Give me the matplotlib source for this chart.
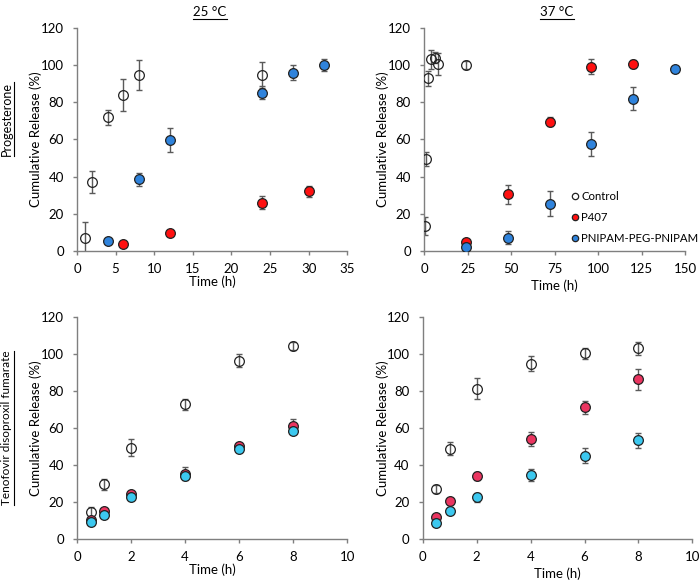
import matplotlib.pyplot as plt

plt.rcParams['font.family'] = ['Lato', 'DejaVu Sans']

# --- Progesterone, 25 °C ---
p25_ctrl_t = [1, 2, 4, 6, 8, 24]
p25_ctrl_y = [7, 37, 72, 84, 94.5, 94.5]
p25_ctrl_e = [8.5, 6, 4, 8.5, 8, 7]
p25_p407_t = [6, 12, 24, 30]
p25_p407_y = [4, 9.5, 26, 32]
p25_p407_e = [0.5, 1, 3.5, 3]
p25_pni_t = [4, 8, 12, 24, 28, 32]
p25_pni_y = [5.5, 38.5, 59.5, 85, 96, 100]
p25_pni_e = [0.5, 3.5, 6.5, 3.5, 4, 3]

# --- Progesterone, 37 °C ---
p37_ctrl_t = [0.5, 1, 2, 4, 6, 8, 24]
p37_ctrl_y = [13.5, 49.5, 93, 103, 104, 100.5, 100]
p37_ctrl_e = [5, 4, 4, 5, 3, 6, 2]
p37_p407_t = [24, 48, 72, 96, 120]
p37_p407_y = [5, 30.5, 69.5, 99, 100.5]
p37_p407_e = [1, 5, 2.5, 4, 2]
p37_pni_t = [24, 48, 72, 96, 120, 144]
p37_pni_y = [2, 7, 25.5, 57.5, 82, 98]
p37_pni_e = [1, 3.5, 6.5, 6.5, 6, 1]

# --- Tenofovir disoproxil fumarate ---
tdf_t = [0.5, 1, 2, 4, 6, 8]
t25_ctrl_y = [14.5, 29.8, 49.4, 72.9, 96.6, 104.4]
t25_ctrl_e = [3, 3, 4.5, 3, 3.5, 2]
t25_p407_y = [10.4, 15.3, 24.3, 35.5, 50.5, 61]
t25_p407_e = [1, 1, 1, 3.5, 1.5, 4]
t25_pni_y = [9.2, 13.3, 22.8, 34.3, 49, 58.5]
t25_pni_e = [1, 1, 1.5, 1.5, 1.5, 1.5]
t37_ctrl_y = [27.1, 49, 81.4, 94.8, 100.4, 103.3]
t37_ctrl_e = [2, 3.5, 5.5, 4, 3, 3.5]
t37_p407_y = [12.2, 20.8, 34.1, 54.2, 71.3, 86.4]
t37_p407_e = [1, 1, 2, 4, 3.5, 5.5]
t37_pni_y = [9, 15.1, 22.6, 34.7, 45.1, 53.5]
t37_pni_e = [1, 1, 2.5, 3.5, 4, 4]

RED = '#ff1010'
BLUE = '#2f83dc'
PINK = '#ea3560'
CYAN = '#3cc8ef'
ERR = '#5a5a5a'


def series(ax, t, y, e, face, label=None):
    ax.errorbar(t, y, yerr=e, fmt='none', ecolor=ERR, elinewidth=1,
                capsize=2.2, capthick=1, zorder=2)
    ax.plot(t, y, 'o', ms=7, mfc=face, mec='#222222', mew=0.9,
            label=label, zorder=3)


def style(ax, xmax, xstep, ylab_x, xlab_y):
    ax.set_xlim(0, xmax)
    ax.set_ylim(0, 120)
    ax.set_xticks(range(0, xmax + 1, xstep))
    ax.set_yticks(range(0, 121, 20))
    for s in ['top', 'right']:
        ax.spines[s].set_visible(False)
    for s in ['left', 'bottom']:
        ax.spines[s].set_color('#7f7f7f')
        ax.spines[s].set_linewidth(1)
    ax.tick_params(colors='#7f7f7f', labelcolor='black', labelsize=9.5,
                   length=3, width=1, direction='out')
    ax.tick_params(axis='x', pad=5.5)
    ax.tick_params(axis='y', pad=6.5)
    ax.set_xlabel('Time (h)', fontsize=9.5)
    ax.set_ylabel('Cumulative Release (%)', fontsize=9.5)
    ax.xaxis.set_label_coords(0.5, xlab_y)
    ax.yaxis.set_label_coords(ylab_x, 0.5)


fig = plt.figure(figsize=(7, 5.81), dpi=100)
ax1 = fig.add_axes([0.110, 0.568, 0.386, 0.384])
ax2 = fig.add_axes([0.606, 0.568, 0.373, 0.384])
ax3 = fig.add_axes([0.110, 0.072, 0.386, 0.382])
ax4 = fig.add_axes([0.604, 0.072, 0.385, 0.382])

series(ax1, p25_ctrl_t, p25_ctrl_y, p25_ctrl_e, 'none')
series(ax1, p25_p407_t, p25_p407_y, p25_p407_e, RED)
series(ax1, p25_pni_t, p25_pni_y, p25_pni_e, BLUE)
style(ax1, 35, 5, -0.13, -0.108)

series(ax2, p37_ctrl_t, p37_ctrl_y, p37_ctrl_e, 'none', 'Control')
series(ax2, p37_p407_t, p37_p407_y, p37_p407_e, RED, 'P407')
series(ax2, p37_pni_t, p37_pni_y, p37_pni_e, BLUE, 'PNIPAM-PEG-PNIPAM')
style(ax2, 150, 25, -0.134, -0.126)
ax2.legend(loc='upper left', bbox_to_anchor=(0.565, 0.268), frameon=False,
           fontsize=8.2, markerscale=0.65, handlelength=0.5, handletextpad=0.35,
           labelspacing=0.85, borderpad=0, borderaxespad=0)

series(ax3, tdf_t, t25_ctrl_y, t25_ctrl_e, 'none')
series(ax3, tdf_t, t25_p407_y, t25_p407_e, PINK)
series(ax3, tdf_t, t25_pni_y, t25_pni_e, CYAN)
style(ax3, 10, 2, -0.13, -0.108)

series(ax4, tdf_t, t37_ctrl_y, t37_ctrl_e, 'none')
series(ax4, tdf_t, t37_p407_y, t37_p407_e, PINK)
series(ax4, tdf_t, t37_pni_y, t37_pni_e, CYAN)
style(ax4, 10, 2, -0.126, -0.126)

# underlined headings and row labels
labels = [
    (210 / 700, 1 - 12 / 581, '25 °C', 0, 9.5),
    (557 / 700, 1 - 12 / 581, '37 °C', 0, 9.5),
    (7 / 700, 1 - 119 / 581, 'Progesterone', 90, 9),
    (7 / 700, 1 - 428 / 581, 'Tenofovir disoproxil fumarate', 90, 8.5),
]
texts = []
for x, y, s, rot, fs in labels:
    texts.append(fig.text(x, y, s, ha='center', va='center', rotation=rot,
                          fontsize=fs))
fig.canvas.draw()
inv = fig.transFigure.inverted()
for txt, (x, y, s, rot, fs) in zip(texts, labels):
    bb = txt.get_window_extent().transformed(inv)
    if rot == 0:
        fig.add_artist(plt.Line2D([bb.x0, bb.x1], [bb.y0 - 0.002] * 2,
                                  color='black', lw=0.8))
    else:
        fig.add_artist(plt.Line2D([bb.x1 + 0.002] * 2, [bb.y0, bb.y1],
                                  color='black', lw=0.8))

plt.savefig('out.png', dpi=100)
plt.close()
